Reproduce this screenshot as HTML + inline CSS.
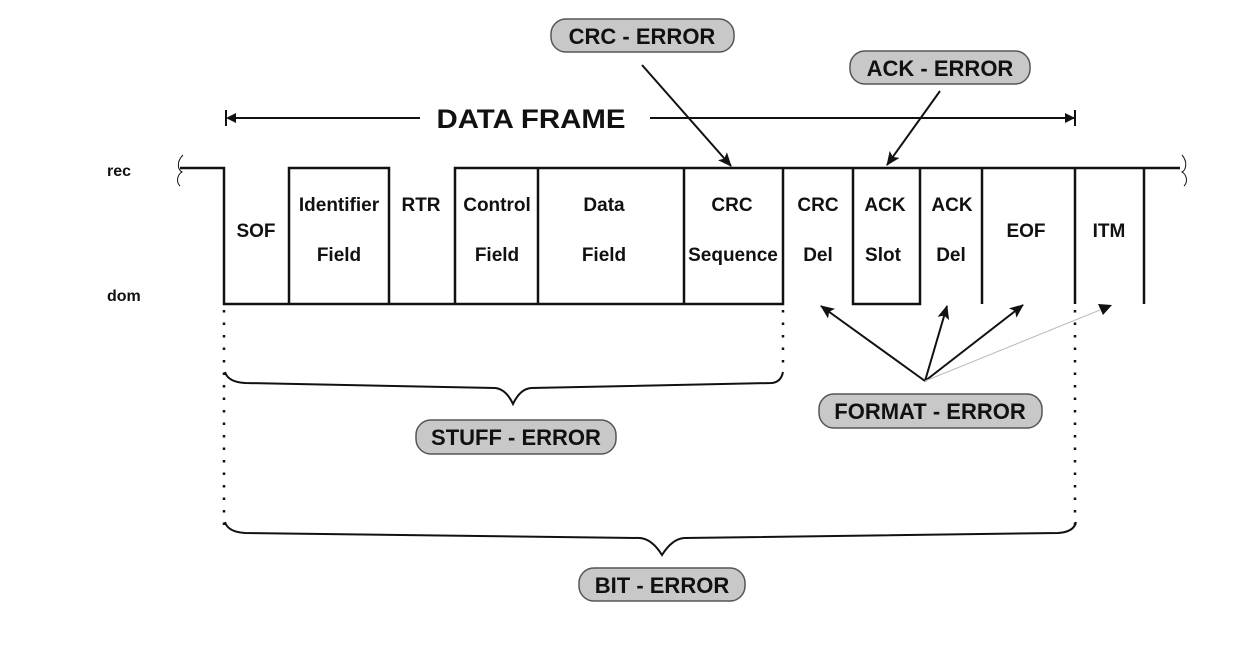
<!DOCTYPE html>
<html><head><meta charset="utf-8"><style>
html,body{margin:0;padding:0;background:#fff;}
svg{display:block;}
text{font-family:"Liberation Sans",sans-serif;font-weight:bold;fill:#111;}
</style></head><body>
<svg width="1242" height="652" viewBox="0 0 1242 652" xmlns="http://www.w3.org/2000/svg">
<defs>
<marker id="ah" markerWidth="10" markerHeight="10" refX="9" refY="5" orient="auto" markerUnits="userSpaceOnUse">
<path d="M0,0 L10,5 L0,10 Z" fill="#111"/></marker>
<marker id="ah2" markerWidth="14" markerHeight="12" refX="13" refY="6" orient="auto" markerUnits="userSpaceOnUse">
<path d="M0,0 L14,6 L0,12 L3,6 Z" fill="#111"/></marker>
</defs>
<g stroke="#111" stroke-width="2.5" fill="none">
<path d="M183,155 C176,162 178,170 182,172 C177,175 176,182 180,186" stroke-width="1"/>
<path d="M1182,155 C1188,162 1186,170 1182,172 C1187,175 1188,182 1184,186" stroke-width="1"/>
<path d="M180,168 H224 V304 H783 V168"/>
<path d="M289,304 V168 H389 V304"/>
<path d="M455,304 V168 H1180"/>
<path d="M538,168 V304 M684,168 V304"/>
<path d="M853,168 V304 H920 V168"/>
<path d="M982,168 V304 M1075,168 V304 M1144,168 V304"/>
</g>
<g stroke="#111" stroke-width="2">
<line x1="234" y1="118" x2="420" y2="118"/>
<line x1="650" y1="118" x2="1074" y2="118" marker-end="url(#ah)"/>
<line x1="226" y1="110" x2="226" y2="126"/>
<line x1="1075" y1="110" x2="1075" y2="126"/>
</g>
<path d="M226,118 L236,113 L236,123 Z" fill="#111"/>
<text x="531" y="128" font-size="27" text-anchor="middle" textLength="189" lengthAdjust="spacingAndGlyphs">DATA  FRAME</text>
<g font-size="19" text-anchor="middle">
<text x="256" y="237">SOF</text>
<text x="339" y="211">Identifier</text><text x="339" y="261">Field</text>
<text x="421" y="211">RTR</text>
<text x="497" y="211">Control</text><text x="497" y="261">Field</text>
<text x="604" y="211">Data</text><text x="604" y="261">Field</text>
<text x="732" y="211">CRC</text><text x="733" y="261">Sequence</text>
<text x="818" y="211">CRC</text><text x="818" y="261">Del</text>
<text x="885" y="211">ACK</text><text x="883" y="261">Slot</text>
<text x="952" y="211">ACK</text><text x="951" y="261">Del</text>
<text x="1026" y="237">EOF</text>
<text x="1109" y="237">ITM</text>
</g>
<text x="107" y="176" font-size="16">rec</text>
<text x="107" y="301" font-size="16">dom</text>
<g stroke="#111" stroke-width="2" fill="none">
<line x1="642" y1="65" x2="731" y2="166" marker-end="url(#ah2)"/>
<line x1="940" y1="91" x2="887" y2="165" marker-end="url(#ah2)"/>
<line x1="925" y1="381" x2="821" y2="306" marker-end="url(#ah2)"/>
<line x1="925" y1="381" x2="947" y2="306" marker-end="url(#ah2)"/>
<line x1="925" y1="381" x2="1023" y2="305" marker-end="url(#ah2)"/>
</g>
<line x1="925" y1="381" x2="1100" y2="310" stroke="#bbb" stroke-width="1"/>
<path d="M1112,305 L1098,304 L1103,315 Z" fill="#111"/>
<g stroke="#111" stroke-width="2.5" stroke-dasharray="2.5,10" fill="none">
<line x1="224" y1="310" x2="224" y2="525"/>
<line x1="783" y1="310" x2="783" y2="370"/>
<line x1="1075" y1="310" x2="1075" y2="525"/>
</g>
<g stroke="#111" stroke-width="2" fill="none">
<path d="M225,372 Q228,382 245,383 L495,388 Q506,389 513,404 Q520,389 531,388 L772,383 Q781,382 783,372"/>
<path d="M225,522 Q228,532 245,533 L640,538 Q652,539 662,555 Q672,539 684,538 L1058,533 Q1074,532 1076,522"/>
</g>
<g fill="#c8c8c8" stroke="#555" stroke-width="1.5">
<rect x="551" y="19" width="183" height="33" rx="15"/>
<rect x="850" y="51" width="180" height="33" rx="15"/>
<rect x="819" y="394" width="223" height="34" rx="15"/>
<rect x="416" y="420" width="200" height="34" rx="15"/>
<rect x="579" y="568" width="166" height="33" rx="15"/>
</g>
<g font-size="22" text-anchor="middle">
<text x="642" y="44">CRC - ERROR</text>
<text x="940" y="76">ACK - ERROR</text>
<text x="930" y="419">FORMAT - ERROR</text>
<text x="516" y="445">STUFF - ERROR</text>
<text x="662" y="593">BIT - ERROR</text>
</g>
</svg>
</body></html>
